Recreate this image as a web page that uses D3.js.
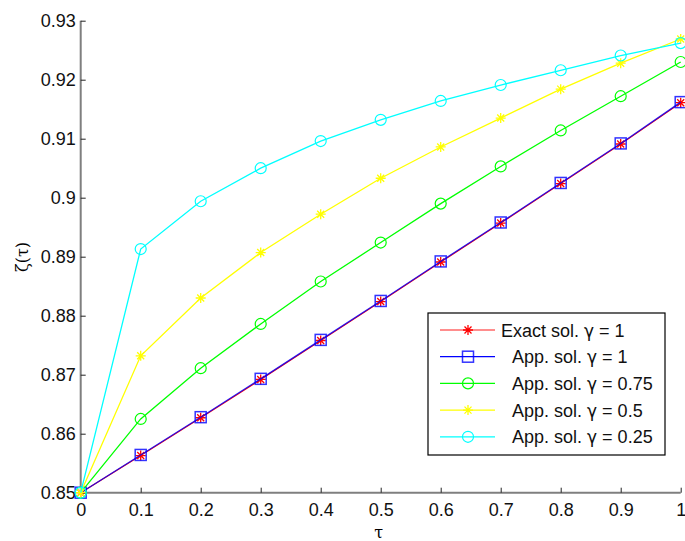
<!DOCTYPE html>
<html>
<head>
<meta charset="utf-8">
<script src="https://cdn.jsdelivr.net/npm/d3@7"></script>
<style>
body { margin: 0; background: #fff; }
text { font-family: "Liberation Sans", Arial, sans-serif; }
</style>
</head>
<body>
<div id="container"></div>
<script>
const tau = [0, 0.1, 0.2, 0.3, 0.4, 0.5, 0.6, 0.7, 0.8, 0.9, 1];
const exact1 = [0.85, 0.8563, 0.8627, 0.8692, 0.8758, 0.8824, 0.8891, 0.8957, 0.9024, 0.9091, 0.9161];
const app1 = [0.85, 0.8564, 0.8628, 0.8693, 0.8759, 0.8825, 0.8892, 0.8958, 0.9025, 0.9092, 0.9162];
const app075 = [0.85, 0.8625, 0.8711, 0.8786, 0.8858, 0.8924, 0.8990, 0.9053, 0.9114, 0.9172, 0.9230];
const app05 = [0.85, 0.8732, 0.8830, 0.8907, 0.8972, 0.9033, 0.9086, 0.9135, 0.9184, 0.9228, 0.9269];
const app025 = [0.85, 0.8913, 0.8994, 0.9050, 0.9096, 0.9132, 0.9164, 0.9191, 0.9216, 0.9241, 0.9262];
const xTicks = [0, 0.1, 0.2, 0.3, 0.4, 0.5, 0.6, 0.7, 0.8, 0.9, 1];
const yTicks = [0.85, 0.86, 0.87, 0.88, 0.89, 0.9, 0.91, 0.92, 0.93];
const legendLabels = ["Exact sol. \u03b3 = 1", "App. sol. \u03b3 = 1", "App. sol. \u03b3 = 0.75", "App. sol. \u03b3 = 0.5", "App. sol. \u03b3 = 0.25"];

const width = 685, height = 541;
const margin = {top: 20.7, right: 4, bottom: 48.3, left: 80.7};

const svg = d3.select('#container')
    .append("svg")
    .attr("width", width)
    .attr("height", height);

const x = d3.scaleLinear().domain([0, 1]).range([margin.left, 680.7]);
const y = d3.scaleLinear().domain([0.85, 0.93]).range([492.7, 20.7]);

const series = [
    {name: legendLabels[0], values: exact1, color: "#ff0000", marker: "star", lineOpacity: 1},
    {name: legendLabels[1], values: app1, color: "#0000ff", marker: "square", lineOpacity: 0.82},
    {name: legendLabels[2], values: app075, color: "#00ff00", marker: "circle", lineOpacity: 1},
    {name: legendLabels[3], values: app05, color: "#ffff00", marker: "star", lineOpacity: 1},
    {name: legendLabels[4], values: app025, color: "#00ffff", marker: "circle", lineOpacity: 1}
];

// axes
const xAxis = svg.append("g")
    .attr("transform", "translate(0," + y(0.85) + ")")
    .call(d3.axisBottom(x).tickValues(xTicks).tickSize(-5).tickPadding(11).tickFormat(d3.format("")));
const yAxis = svg.append("g")
    .attr("transform", "translate(" + x(0) + ",0)")
    .call(d3.axisLeft(y).tickValues(yTicks).tickSize(-5).tickPadding(5).tickFormat(d3.format("")));

[xAxis, yAxis].forEach(a => {
    a.select(".domain").attr("stroke", "#7f7f7f").attr("stroke-width", 2);
    a.selectAll(".tick line").attr("stroke", "#222").attr("stroke-width", 1);
    a.selectAll(".tick text").attr("fill", "#111").style("font-size", "18px");
});
xAxis.select(".domain").attr("d", "M" + x(0) + ",0H" + x(1));
yAxis.select(".domain").attr("d", "M0," + y(0.85) + "V" + y(0.93));

// axis labels
svg.append("text")
    .attr("x", x(0.5) - 2)
    .attr("y", 538)
    .attr("text-anchor", "middle")
    .style("font-family", "'DejaVu Serif', serif")
    .style("font-size", "16px")
    .text("\u03c4");

svg.append("text")
    .attr("transform", "translate(28," + 257 + ") rotate(-90)")
    .attr("text-anchor", "middle")
    .style("font-family", "'DejaVu Serif', serif")
    .style("font-size", "16px")
    .text("\u03b6(\u03c4)");

const line = d3.line()
    .x((d, i) => x(tau[i]))
    .y(d => y(d));

function drawMarker(g, type, color) {
    if (type === "star") {
        const r = 5;
        g.append("path")
            .attr("d", "M" + (-r) + ",0H" + r + "M0," + (-r) + "V" + r +
                "M" + (-r * 0.7) + "," + (-r * 0.7) + "L" + (r * 0.7) + "," + (r * 0.7) +
                "M" + (-r * 0.7) + "," + (r * 0.7) + "L" + (r * 0.7) + "," + (-r * 0.7))
            .attr("stroke", color)
            .attr("stroke-width", 1.3)
            .attr("fill", "none");
    } else if (type === "square") {
        g.append("rect")
            .attr("x", -5.5).attr("y", -5.5)
            .attr("width", 11).attr("height", 11)
            .attr("fill", "none")
            .attr("stroke", color)
            .attr("stroke-opacity", 0.8)
            .attr("stroke-width", 1.5);
    } else {
        g.append("circle")
            .attr("r", 5.5)
            .attr("fill", "none")
            .attr("stroke", color)
            .attr("stroke-width", 1.2);
    }
}

series.forEach(s => {
    svg.append("path")
        .datum(s.values)
        .attr("d", line)
        .attr("fill", "none")
        .attr("stroke", s.color)
        .attr("stroke-opacity", s.lineOpacity)
        .attr("stroke-width", 1.3);
    const pts = svg.selectAll(null)
        .data(s.values)
        .enter()
        .append("g")
        .attr("transform", (d, i) => "translate(" + x(tau[i]) + "," + y(d) + ")");
    pts.each(function () { drawMarker(d3.select(this), s.marker, s.color); });
});

// legend
const legend = svg.append("g").attr("transform", "translate(428,313)");
legend.append("rect")
    .attr("width", 237)
    .attr("height", 142)
    .attr("fill", "#fff")
    .attr("stroke", "#000")
    .attr("stroke-width", 1.2);

series.forEach((s, i) => {
    const row = legend.append("g").attr("transform", "translate(0," + (17 + i * 26.7) + ")");
    row.append("line")
        .attr("x1", 12).attr("x2", 67)
        .attr("stroke", s.color)
        .attr("stroke-opacity", i === 0 ? 0.6 : 1)
        .attr("stroke-width", 1.3);
    const m = row.append("g").attr("transform", "translate(40,0)");
    drawMarker(m, s.marker, s.color);
    const parts = s.name.split("\u03b3");
    const t = row.append("text")
        .attr("x", i === 0 ? 73 : 84)
        .attr("y", 6.5)
        .style("font-size", "18px")
        .attr("fill", "#111");
    t.append("tspan").text(parts[0]);
    t.append("tspan").style("font-family", "'DejaVu Sans', sans-serif").style("font-size", "17px").text("\u03b3");
    t.append("tspan").text(parts[1]);
});
</script>
</body>
</html>
